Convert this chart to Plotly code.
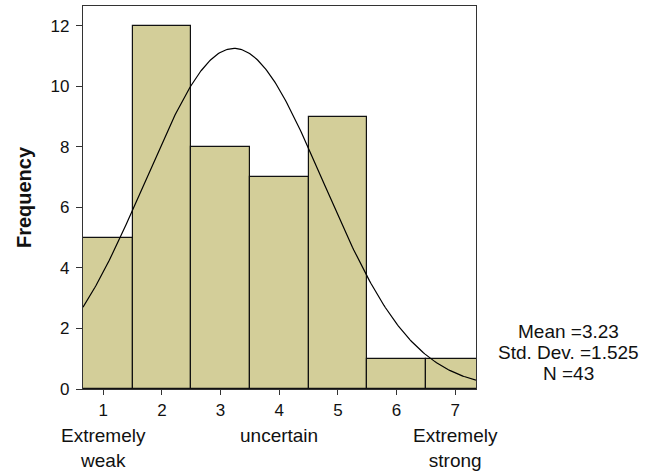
import numpy as np
import plotly.graph_objects as go

# Response scale (1..7) and the count of answers at each point
scale_points = [1, 2, 3, 4, 5, 6, 7]
frequency = [5, 12, 8, 7, 9, 1, 1]

# Summary statistics printed beside the histogram
mean_val = 3.23
std_dev = 1.525
n_obs = 43

# Anchor labels under the scale
anchor_positions = [1, 4, 7]
anchor_labels = ["Extremely<br>weak", "uncertain", "Extremely<br>strong"]

y_ticks = [0, 2, 4, 6, 8, 10, 12]

font_family = "Liberation Sans, Arial, sans-serif"
bar_color = "#D3CE99"
axis_color = "#333333"

x_lo, x_hi = 0.655, 7.355

# plot-area placement in pixels
plot_left, plot_right, plot_top, plot_bottom = 83, 476, 6, 389
plot_h = plot_bottom - plot_top
plot_w = plot_right - plot_left

fig = go.Figure()

fig.add_trace(go.Bar(
    x=scale_points,
    y=frequency,
    width=1.0,
    marker=dict(color=bar_color, line=dict(color="#111111", width=1.2)),
    hoverinfo="x+y",
    showlegend=False,
))

# Fitted normal curve scaled to counts (bin width 1)
xs = np.linspace(x_lo, x_hi, 300)
ys = n_obs * 1.0 / (std_dev * np.sqrt(2 * np.pi)) * np.exp(-0.5 * ((xs - mean_val) / std_dev) ** 2)
fig.add_trace(go.Scatter(
    x=xs, y=ys, mode="lines",
    line=dict(color="black", width=1.2),
    hoverinfo="skip", showlegend=False,
))

annotations = []
for pos, lab in zip(anchor_positions, anchor_labels):
    annotations.append(dict(
        x=pos, y=-(423 - plot_bottom) / plot_h, xref="x", yref="paper",
        text=lab, showarrow=False, xanchor="center", yanchor="top",
        font=dict(family=font_family, size=19, color="#111111"),
        align="center",
    ))

stats_lines = [
    f"Mean ={mean_val:.2f}",
    f"Std. Dev. ={std_dev:.3f}",
    f"N ={n_obs}",
]
for i, line in enumerate(stats_lines):
    px_y = 331 + 21 * i
    annotations.append(dict(
        x=(568 - plot_left) / plot_w, y=(plot_bottom - px_y) / plot_h,
        xref="paper", yref="paper",
        text=line, showarrow=False, xanchor="center", yanchor="middle",
        font=dict(family=font_family, size=19, color="#111111"),
    ))

fig.update_layout(
    width=659, height=475,
    margin=dict(l=plot_left, r=659 - plot_right, t=plot_top, b=475 - plot_bottom),
    paper_bgcolor="white", plot_bgcolor="white",
    bargap=0,
    font=dict(family=font_family, size=17, color="#111111"),
    annotations=annotations,
    xaxis=dict(
        range=[x_lo, x_hi],
        tickmode="array", tickvals=scale_points,
        ticktext=[str(v) for v in scale_points],
        ticks="outside", ticklen=5, tickcolor=axis_color, tickwidth=1,
        showline=True, linecolor=axis_color, linewidth=1.2, mirror=True,
        showgrid=False, zeroline=False,
        tickfont=dict(size=17),
    ),
    yaxis=dict(
        range=[0, 12.65],
        tickmode="array", tickvals=y_ticks,
        ticks="outside", ticklen=6, tickcolor=axis_color, tickwidth=1,
        showline=True, linecolor=axis_color, linewidth=1.2, mirror=True,
        showgrid=False, zeroline=False,
        tickfont=dict(size=17),
        ticklabelstandoff=3,
        title=dict(text="<b>Frequency</b>", font=dict(size=20), standoff=13),
    ),
)

fig.write_html("out.html")
